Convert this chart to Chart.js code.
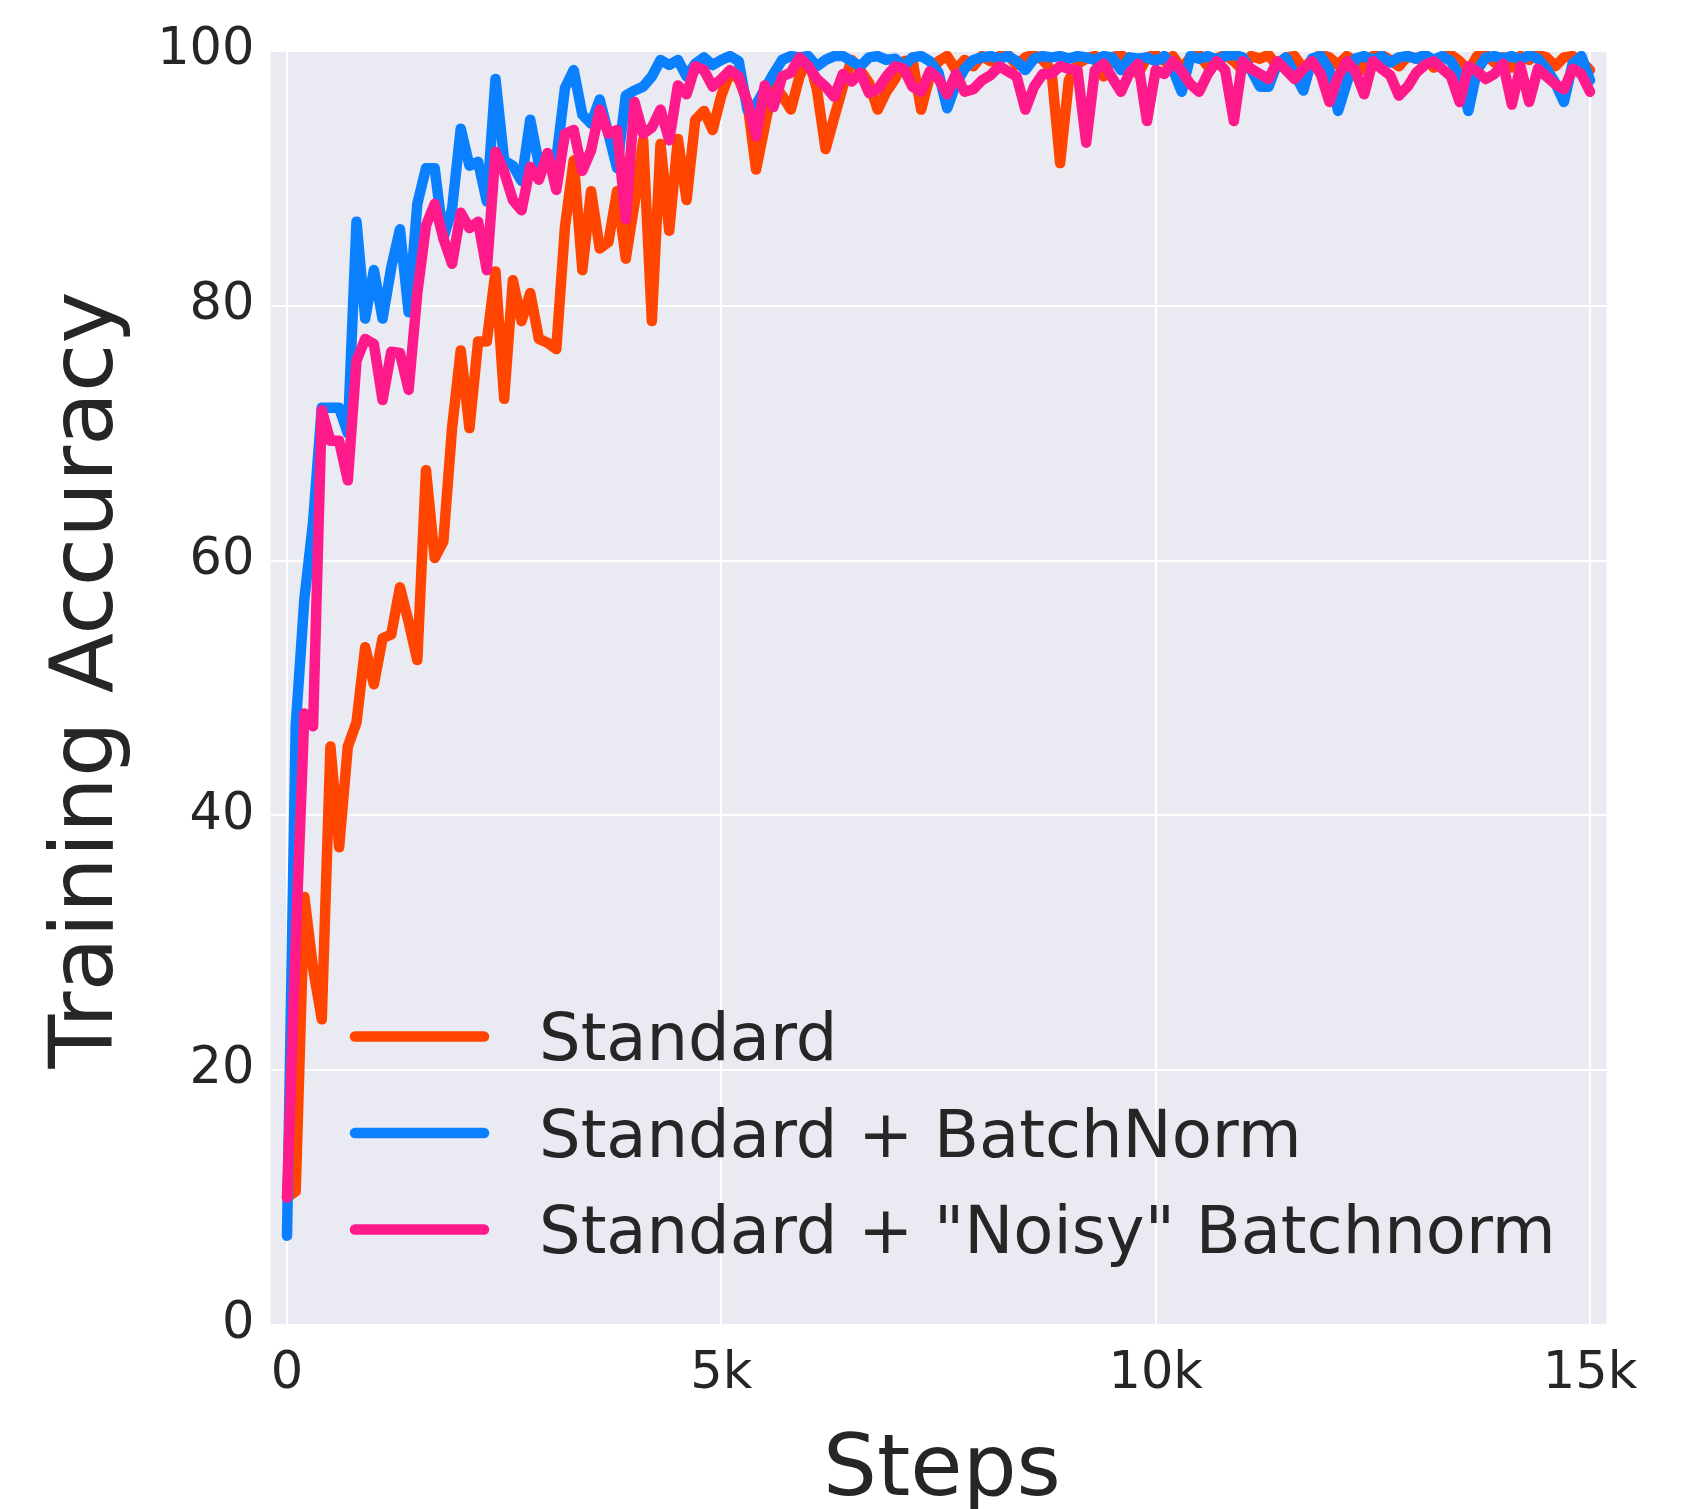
<!DOCTYPE html>
<html><head><meta charset="utf-8">
<script src="https://cdn.jsdelivr.net/npm/chart.js@4"></script>
<style>html,body{margin:0;padding:0;background:#fff}canvas{display:block}</style>
</head><body>
<canvas id="c" width="1698" height="1509"></canvas>
<script>
// sampling grid: one logged point every 100 steps, 0 .. 15000
const steps = Array.from({length:151}, (_, i) => i * 100);

const seriesNames = ['Standard', 'Standard + BatchNorm', 'Standard + "Noisy" Batchnorm'];

const standard = [
  10, 10.5, 33.6, 28, 24, 45.4, 37.5, 45.4, 47.3, 53.2,
  50.3, 53.9, 54.2, 57.9, 55.2, 52.2, 67.1, 60.2, 61.5, 70.4,
  76.5, 70.4, 77.2, 77.2, 82.7, 72.7, 82, 78.8, 81, 77.4,
  77.1, 76.6, 86.2, 91.4, 82.8, 89, 84.5, 85, 89, 83.7,
  88, 93, 78.8, 92.7, 85.9, 93.1, 88.3, 94.6, 95.3, 93.8,
  96.5, 98.3, 97.8, 96, 90.7, 94.1, 97.5, 96.5, 95.4, 98,
  99.5, 97, 92.3, 94.8, 97.2, 99.3, 98.5, 97.5, 95.4, 96.8,
  97.8, 99.2, 99.3, 95.4, 98, 99.2, 99.6, 98.5, 99.3, 98.8,
  99.6, 99.2, 99.6, 99.7, 98.9, 99.5, 99.7, 99.3, 98.5, 91.2,
  97.7, 99, 99.4, 99.6, 98, 99.5, 99.7, 99.2, 98.2, 99.5,
  99.7, 99.2, 99.6, 98.6, 99.5, 99.7, 98.8, 99.4, 99.7, 99.2,
  98.5, 99.6, 99.4, 99.7, 98.8, 99.5, 99.6, 98.6, 99.3, 99.7,
  99.5, 98.9, 99.6, 99.2, 98.5, 99.6, 99.7, 99.3, 98.8, 99.6,
  99.4, 99.7, 98.7, 99.5, 99.7, 99.2, 98.4, 99.6, 99.7, 99.1,
  99.5, 98.7, 99.6, 99.3, 99.7, 99.5, 98.8, 99.5, 99.6, 99.2, 98.5
];

const batchNorm = [
  7, 47, 57, 63, 72, 72, 72, 70, 86.6, 79,
  82.8, 79, 83, 86, 79.5, 88, 90.8, 90.8, 85.3, 87.6,
  93.9, 91, 91.3, 88.2, 97.8, 91.4, 91, 89.8, 94.6, 91.1,
  91.8, 91.5, 97.1, 98.5, 95, 94.3, 96.2, 93.5, 90.8, 96.5,
  96.9, 97.2, 98, 99.3, 98.9, 99.3, 98, 99, 99.5, 98.9,
  99.3, 99.6, 99.2, 95.4, 95.8, 97, 98.2, 99.3, 99.6, 99.5,
  99.6, 98.8, 99.3, 99.6, 99.6, 99.2, 98.8, 99.5, 99.6, 99.3,
  99.4, 98.8, 99.5, 99.6, 99.2, 98.3, 95.5, 97.4, 98.6, 99.3,
  99.5, 99.6, 99.4, 99.6, 99.2, 98.5, 99.4, 99.6, 99.5, 99.6,
  99.4, 99.6, 99.5, 99.3, 99.6, 99.5, 98.5, 99.5, 99.4, 99.5,
  99.2, 99.6, 98.5, 96.8, 99.6, 99.4, 99.6, 99.3, 99.6, 99.7,
  99.5, 98.5, 97.2, 97.2, 99, 99.5, 98.2, 96.9, 99.4, 99.6,
  98.5, 95.3, 97.5, 99.4, 99.6, 99.3, 99.6, 99.1, 99.5, 99.6,
  99.4, 99.7, 99.3, 99.6, 99.2, 98, 95.3, 98.5, 99.5, 99.6,
  99.4, 99.6, 99.3, 99.7, 99.4, 98.6, 97.5, 96, 99, 99.6, 97.7
];

const noisyBatchNorm = [
  10, 30, 48, 47, 71.8, 69.4, 69.4, 66.3, 75.7, 77.4,
  77, 72.6, 76.4, 76.3, 73.4, 81, 86.3, 88, 85.3, 83.3,
  87.3, 86.1, 86.6, 82.8, 92.1, 90.5, 88.3, 87.5, 90.9, 89.9,
  92, 89.1, 93.5, 93.8, 90.6, 92.2, 95.4, 93.5, 93.8, 86.8,
  96, 93.5, 94, 95.4, 93, 97.3, 96.6, 98.8, 98.5, 97.2,
  97.8, 98.5, 98, 96, 93.3, 97.3, 95.6, 98, 98.3, 99.5,
  98.8, 97.8, 97.2, 96.4, 98.2, 97.6, 98.3, 96.7, 97, 98,
  98.8, 98.6, 97.2, 96.8, 98.4, 97.8, 96.6, 98.2, 96.8, 97,
  97.7, 98.1, 98.8, 98.4, 98, 95.4, 97.2, 98.2, 98.2, 98.8,
  98.6, 98.5, 92.8, 98.5, 99, 97.9, 96.8, 98.3, 99, 94.5,
  98.5, 98.2, 99.2, 98.4, 97.4, 96.8, 98.2, 99.2, 98.5, 94.5,
  99.2, 98.6, 98.2, 97.8, 99.2, 98.5, 97.8, 98.6, 99.2, 98.2,
  96, 98, 99.2, 98.4, 96.6, 99.2, 98.6, 98.1, 96.5, 97.2,
  98.3, 98.9, 99.2, 98.6, 98, 96, 98.8, 98.4, 97.8, 98.2,
  99, 95.8, 98.8, 96, 98.6, 98, 97.4, 97, 98.6, 98.2, 96.8
];

const xTickValues = [0, 5000, 10000, 15000];
const xTickLabels = ['0', '5k', '10k', '15k'];
const yTickValues = [0, 20, 40, 60, 80, 100];
const yTickLabels = ['0', '20', '40', '60', '80', '100'];
const xTitle = 'Steps';
const yTitle = 'Training Accuracy';

const colors = ['#FF4500', '#0A80FF', '#FF1A8C'];
const FONT = "'DejaVu Sans', 'Liberation Sans', sans-serif";
const TEXT = '#262626';

const seriesValues = [standard, batchNorm, noisyBatchNorm];
const datasets = seriesValues.map((vals, k) => ({
  label: seriesNames[k],
  data: steps.map((s, i) => ({x: s, y: vals[i]})),
  borderColor: colors[k],
  backgroundColor: colors[k],
  borderWidth: 10.5,
  borderJoinStyle: 'round',
  borderCapStyle: 'round',
  pointRadius: 0,
  tension: 0,
  fill: false,
  order: 3 - k
}));

const decor = {
  id: 'decor',
  beforeDraw(chart) {
    const {ctx, chartArea: a} = chart;
    ctx.save();
    ctx.fillStyle = '#ffffff';
    ctx.fillRect(0, 0, chart.width, chart.height);
    ctx.fillStyle = '#EAEAF2';
    ctx.fillRect(a.left, a.top, a.right - a.left, a.bottom - a.top);
    ctx.restore();
  },
  afterDatasetsDraw(chart) {
    const ctx = chart.ctx;
    ctx.save();
    const fs = 65.6;
    ctx.font = fs + 'px ' + FONT;
    ctx.textBaseline = 'alphabetic';
    ctx.textAlign = 'left';
    seriesNames.forEach((name, k) => {
      const y = 1036.5 + k * 96.5;
      ctx.strokeStyle = colors[k];
      ctx.lineWidth = 10.5;
      ctx.lineCap = 'round';
      ctx.beginPath();
      ctx.moveTo(355, y);
      ctx.lineTo(484, y);
      ctx.stroke();
      ctx.fillStyle = TEXT;
      ctx.fillText(name, 539, y + 0.3645 * fs);
    });
    // axis titles
    ctx.fillStyle = TEXT;
    ctx.textAlign = 'center';
    ctx.font = '85px ' + FONT;
    ctx.fillText(xTitle, 942, 1495);
    ctx.translate(111.5, 680);
    ctx.rotate(-Math.PI / 2);
    ctx.font = '88px ' + FONT;
    ctx.fillText(yTitle, 0, 0);
    ctx.restore();
  }
};

new Chart(document.getElementById('c'), {
  type: 'line',
  data: {datasets},
  plugins: [decor],
  options: {
    responsive: false,
    animation: false,
    devicePixelRatio: 1,
    layout: {padding: {left: 0, right: 91.5, top: 51, bottom: 0}},
    plugins: {legend: {display: false}, tooltip: {enabled: false}, title: {display: false}},
    scales: {
      x: {
        type: 'linear', min: -190, max: 15190,
        afterBuildTicks: s => { s.ticks = xTickValues.map(v => ({value: v})); },
        afterFit: s => { s.height = 184; },
        grid: {color: '#ffffff', lineWidth: 2, drawTicks: false},
        border: {display: false},
        ticks: {
          font: {family: FONT, size: 51}, color: TEXT, padding: 19,
          maxRotation: 0, autoSkip: false,
          callback: v => { const k = xTickValues.indexOf(v); return k >= 0 ? xTickLabels[k] : ''; }
        }
      },
      y: {
        type: 'linear', min: 0, max: 100,
        afterBuildTicks: s => { s.ticks = yTickValues.map(v => ({value: v})); },
        afterFit: s => { s.width = 270.5; },
        grid: {color: '#ffffff', lineWidth: 2, drawTicks: false},
        border: {display: false},
        ticks: {
          font: {family: FONT, size: 51}, color: TEXT, padding: 16,
          autoSkip: false,
          callback: v => { const k = yTickValues.indexOf(v); return k >= 0 ? yTickLabels[k] : ''; }
        }
      }
    }
  }
});
</script>
</body></html>
